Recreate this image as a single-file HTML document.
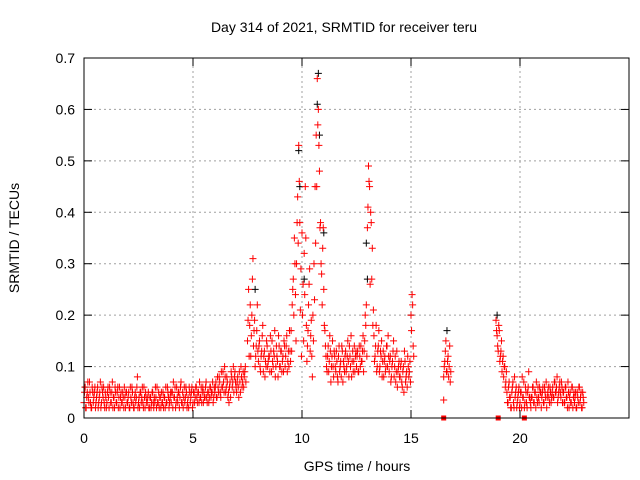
<!DOCTYPE html>
<html><head><meta charset="utf-8">
<style>
html,body{margin:0;padding:0;background:#fff;}
svg{display:block;font-family:"Liberation Sans",sans-serif;}
</style></head>
<body>
<svg id="chart" width="640" height="480" viewBox="0 0 640 480">
  <rect x="0" y="0" width="640" height="480" fill="#fff"/>
  <text x="344" y="32" text-anchor="middle" font-size="14" fill="#000">Day 314 of 2021, SRMTID for receiver teru</text>
  <g id="grid"></g>
  <g id="marks"></g>
  <rect x="84" y="58" width="545" height="360" fill="none" stroke="#000" stroke-width="1"/>
  <g id="axes"></g>
  <text x="357" y="471" text-anchor="middle" font-size="14">GPS time / hours</text>
  <text x="0" y="0" transform="translate(19,238) rotate(-90)" text-anchor="middle" font-size="14">SRMTID / TECUs</text>
</svg>
<script>
const xTicks=[0,5,10,15,20];
const yTicks=[0,0.1,0.2,0.3,0.4,0.5,0.6,0.7];
const yTickLabels=["0","0.1","0.2","0.3","0.4","0.5","0.6","0.7"];
const sampleStep=0.05;
// red series segments, values in units of 0.01 TECU
const segStarts=[0,7.5,16.5,18.9,19.4];
const segValsA=[
[3,6,2,5,4,7,3,2,5,4,6,3,5,2,4,7,3,5,6,2, 4,3,6,2,5,3,7,4,2,5,3,6,4,2,5,3,4,6,2,5, 3,5,2,4,6,3,2,5,4,8,3,2,5,4,3,6,2,4,3,5, 2,4,3,5,2,3,4,6,3,2,4,5,3,2,4,6,3,5,2,4, 3,5,7,4,2,6,3,5,4,7,3,2,6,4,5,3,2,5,4,6, 3,5,4,6,3,5,7,4,3,6,5,4,7,3,5,4,6,5,7,4, 5,7,4,6,8,5,9,6,7,10,5,8,4,3,7,9,6,10,8,7, 5,8,4,7,10,6,9,8,10],
[15,25,18,12,20,31,17,10,14,22, 11,15,9,13,18,12,8,10,14,11, 12,16,9,11,13,17,10,12,8,14, 10,13,11,9,14,12,16,11,10,13, 17,22,27,35,24,30,43,53,38,29, 36,26,32,45,18,14,22,29,16,12, 20,30,45,55,66,60,48,38, 28,33,25,17,12,9,14,11,13,10,15,8, 12,9,11,7,14,10,8,13,11,9, 13,10,15,8,12,16,11,9,14,12, 10,13,9,12,14,11,16,13,20,22, 37,49,45,40,27,18, 16,12,18,10,14,9,13,15,11,8,12,10,14,16, 9,12,8,11,15,10,7,13,9,11, 8,11,6,10,13,7,9,12,8,11, 20,24,14],
[8,11,15,9,12,10,7],
[19,16,13,17,12,15,11,8,10,7],
[5,3,7,4,2,6,3,8,5,2,4,6, 3,5,8,4,2,6,3,5,9,4, 2,4,6,3,5,7,3,4,6,5, 4,6,3,5,7,4,6,3,5,4, 6,4,7,5,8,4,6,5,7,3, 5,3,6,4,7,2,5,3,6,4, 3,5,2,4,6,3,5,2,4]
];
const segValsB=[
[5,2,4,7,3,5,2,6,3,5,2,4,6,3,5,2,6,4,3,5, 2,5,4,6,3,5,2,4,6,3,5,2,6,4,3,5,2,4,5,3, 4,2,6,3,5,2,4,3,6,2,4,5,3,6,2,4,5,3,4,2, 4,2,5,3,4,6,2,3,5,4,2,3,5,4,2,3,6,4,3,5, 5,2,4,6,3,4,5,2,6,3,5,4,3,6,2,4,6,3,5,2, 5,3,6,4,5,3,4,6,5,3,4,6,4,5,3,6,4,5,3,6, 6,4,8,5,7,4,6,9,5,8,6,7,5,6,4,8,7,5,9,6, 7,6,9,5,8,7,6,9,7],
[19,12,22,16,27,14,19,12,17,13, 14,10,12,16,9,13,11,15,10,12, 9,13,15,10,12,8,14,11,16,10, 13,9,12,15,10,14,9,13,17,11, 13,25,20,30,15,38,34,46,21,12, 20,15,24,35,11,17,26,13,19,8, 15,23,34,45,57,53,37,30, 22,37,18,14,10,12,9,16,7,12,10,13, 10,13,8,12,9,11,14,7,10,12, 9,12,11,14,10,8,13,11,9,13, 12,9,14,10,11,13,9,15,18,12, 41,46,26,38,33,21, 11,14,9,13,17,10,12,8,13,11,9,14,10,12, 11,7,10,13,8,12,9,6,10,8, 10,7,9,5,11,8,6,10,9,7, 17,22,12],
[10,13,9,11,8,14,9],
[17,14,18,11,13,9,12,10,6,9],
[3,6,4,2,5,7,2,4,6,3,5,2, 5,2,4,7,3,5,2,6,4,3, 4,6,3,5,2,4,6,3,5,2, 5,3,6,4,2,5,4,6,3,5, 4,7,5,6,3,5,7,4,6,5, 3,6,4,2,5,4,3,6,2,5, 4,2,5,3,6,4,2,5,3]
];
const blackTimes=[7.85,9.85,9.9,10.1,10.7,10.75,10.8,11.0,12.95,13.0,15.0,16.65,18.95,0.05];
const blackVals=[0.25,0.52,0.45,0.27,0.61,0.67,0.55,0.36,0.34,0.27,0.2,0.17,0.2,0.06];
const zeroTimes=[16.5,19.0,20.2];
const zeroVals=[0,0,0];

const X0=84,X1=629,Y0=418,Y1=58,XMAX=25,YMAX=0.7;
function xs(t){return X0+t*(X1-X0)/XMAX;}
function ys(v){return Y0-v*(Y0-Y1)/YMAX;}
const NS="http://www.w3.org/2000/svg";
const grid=document.getElementById('grid'),axes=document.getElementById('axes'),marks=document.getElementById('marks');
function mk(tag,attrs,parent){const e=document.createElementNS(NS,tag);for(const k in attrs)e.setAttribute(k,attrs[k]);parent.appendChild(e);return e;}
yTicks.forEach((v,i)=>{
  const y=ys(v);
  if(i>0&&i<yTicks.length-1){const g=mk('line',{x1:X0,x2:X1,y1:y,y2:y,stroke:'#a0a0a0','stroke-dasharray':'2,3'},grid);
  
  }
  const t=mk('line',{x1:X0,x2:X0+8,y1:y,y2:y,stroke:'#000'},axes);
  
  
  const t2=mk('line',{x1:X1,x2:X1-8,y1:y,y2:y,stroke:'#000'},axes);
  
  
  const l=mk('text',{x:X0-9,y:y+5,'text-anchor':'end','font-size':'14'},axes);
  l.textContent=yTickLabels[i];
  
  
});
xTicks.forEach(v=>{
  const x=xs(v);
  if(v>0){const g=mk('line',{x1:x,x2:x,y1:Y0,y2:Y1,stroke:'#a0a0a0','stroke-dasharray':'2,3'},grid);
  
  }
  const t=mk('line',{x1:x,x2:x,y1:Y0,y2:Y0-8,stroke:'#000'},axes);
  
  
  const t2=mk('line',{x1:x,x2:x,y1:Y1,y2:Y1+8,stroke:'#000'},axes);
  
  
  const l=mk('text',{x:x,y:Y0+25,'text-anchor':'middle','font-size':'14'},axes);
  l.textContent=String(v);
  
  
});
function plus(t,v,color,name){
  const x=xs(t),y=ys(v);
  const p=mk('path',{d:`M${x-3.5} ${y}H${x+3.5}M${x} ${y-3.5}V${y+3.5}`,stroke:color,'stroke-width':'1',fill:'none'},marks);
  
  
}
blackTimes.forEach((t,i)=>plus(t,blackVals[i],'#000','black-point'));
segStarts.forEach((s,k)=>{
  segValsA[k].forEach((v,i)=>plus(s+i*sampleStep,v/100,'#f00','red-point'));
  segValsB[k].forEach((v,i)=>plus(s+i*sampleStep+sampleStep/2,v/100,'#f00','red-point'));
});
plus(16.5,0.035,'#f00','red-point');
zeroTimes.forEach((t,i)=>{
  const r=mk('rect',{x:xs(t)-2.5,y:ys(zeroVals[i])-2.5,width:5,height:5,fill:'#f00'},marks);
  
  
});
</script>
</body></html>
